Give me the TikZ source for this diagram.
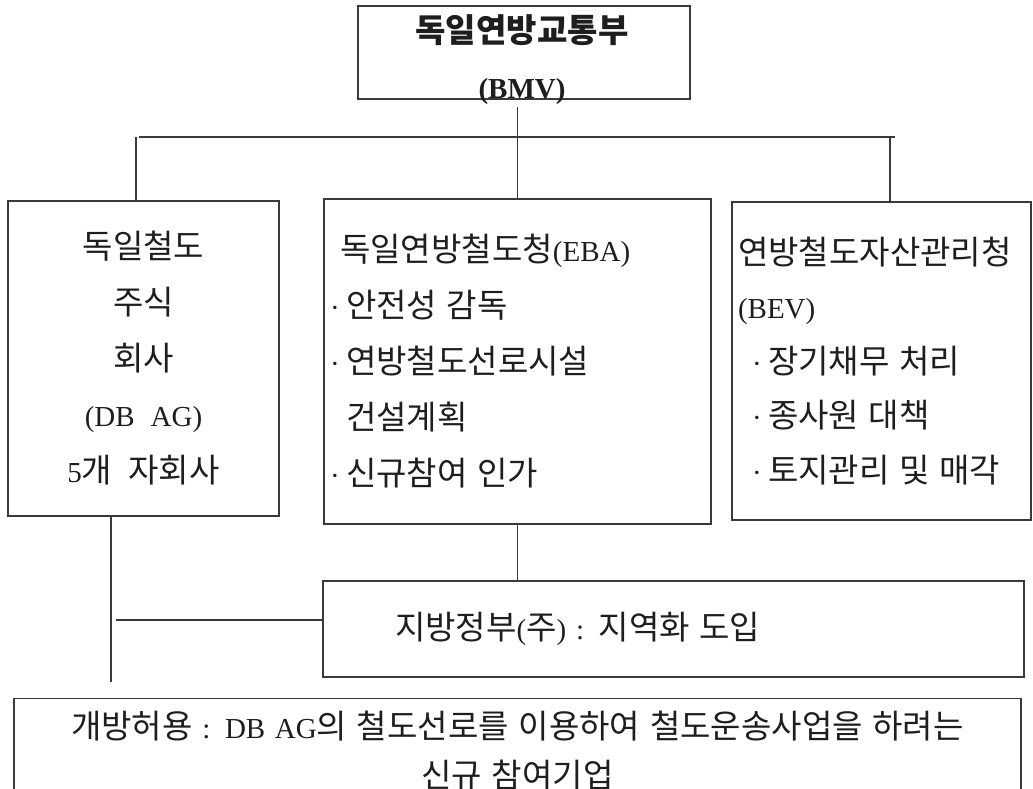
\documentclass[tikz,border=0pt]{standalone}
\usepackage{fontspec}
\setmainfont{Liberation Serif}[WordSpace=2.2]
\newfontfamily\kofont{Noto Sans CJK KR}[Scale=1.14,WordSpace=2.2]
\newcommand{\hg}[1]{{\kofont #1}}
\newcommand{\bul}{\makebox[16pt][l]{·}}
\usepackage{tikz}
\usetikzlibrary{positioning}
\definecolor{boxline}{HTML}{3A3A3A}
\definecolor{textdark}{HTML}{1E1E1E}

\begin{document}
\begin{tikzpicture}[x=1pt,y=-1pt,
  box/.style={draw=boxline,line width=1.1pt,inner sep=0pt,text=textdark},
  conn/.style={draw=boxline,line width=1.1pt},
  big/.style={font=\fontsize{29pt}{56pt}\selectfont}]
\useasboundingbox (0,0) rectangle (1033,789);

% ministry
\node[box,minimum width=332pt,minimum height=93pt] (bmv) at (524,52.5) {};
\node[align=center,inner sep=2pt,text=textdark,font=\fontsize{29pt}{56pt}\selectfont\bfseries] (bmvtext) at (522,60) {\hg{독일연방교통부}\\(BMV)};

% the three bodies
\node[box,big,align=center,minimum width=271pt,minimum height=315pt] (dbag) at (143.5,358.5)
  {\hg{독일철도}\\\hg{주식}\\\hg{회사}\\(DB AG)\\5\hg{개 자회사}};
\node[box,big,align=left,inner xsep=6pt,text width=375pt,minimum height=325pt] (eba) at (517.5,361.5)
  {\hspace*{10pt}\hg{독일연방철도청}(EBA)\\\bul\hg{안전성 감독}\\\bul\hg{연방철도선로시설}\\\hspace*{16pt}\hg{건설계획}\\\bul\hg{신규참여 인가}};
\node[box,align=left,inner xsep=6pt,text width=287pt,minimum height=318pt,font=\fontsize{29pt}{54.5pt}\selectfont] (bev) at (881.5,361)
  {\hg{연방철도자산관리청}\\(BEV)\\\hspace*{14pt}\bul\hg{장기채무 처리}\\\hspace*{14pt}\bul\hg{종사원 대책}\\\hspace*{14pt}\bul\hg{토지관리 및 매각}};

% regions and open access
\node[box,big,align=left,inner xsep=6pt,text width=689pt,minimum height=96pt] (land) at (673.5,629)
  {\hspace*{66pt}\hg{지방정부}(\hg{주}) : \hg{지역화 도입}};
\node[box,align=center,anchor=north,inner xsep=3.5pt,inner ysep=12pt,text width=1000pt,font=\fontsize{29pt}{49pt}\selectfont] (open) at (517.5,698)
  {\hg{개방허용} : DB AG\hg{의 철도선로를 이용하여 철도운송사업을 하려는}\\\hg{신규 참여기업}};

% tree lines
\coordinate (busL) at (139,137);
\coordinate (busR) at (895,137);
\draw[conn] (busL) -- (busR);
\draw[conn] (bmvtext.south -| eba.north) -- (eba.north);
\coordinate (dropL) at ([xshift=-7.5pt]dbag.north);
\draw[conn] (dropL |- busL) -- (dropL);
\coordinate (dropR) at ([xshift=8.5pt]bev.north);
\draw[conn] (dropR |- busR) -- (dropR);

% lower links
\coordinate (dropD) at ([xshift=-32.5pt]dbag.south);
\coordinate (openTop) at ([yshift=16pt]open.north);
\draw[conn] (dropD) -- (dropD |- openTop);
\coordinate (landIn) at ([yshift=9pt]land.west);
\draw[conn] (dropD |- landIn) ++(5,0) -- (landIn);
\draw[conn] (eba.south) -- (eba.south |- land.north);
\end{tikzpicture}
\end{document}
